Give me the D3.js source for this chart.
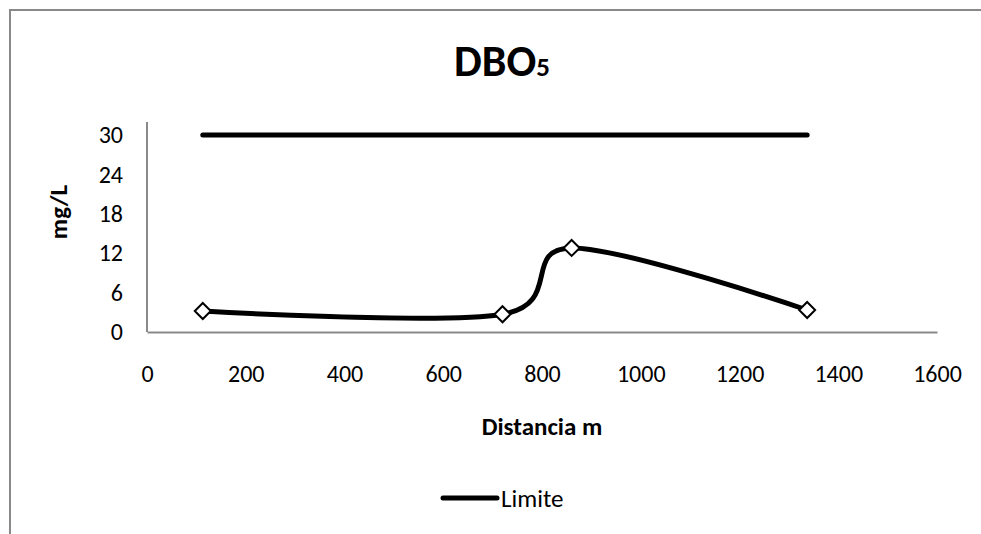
<!DOCTYPE html>
<html>
<head>
<meta charset="utf-8">
<script src="https://cdn.jsdelivr.net/npm/d3@7"></script>
<style>
  html, body { margin: 0; padding: 0; background: #fff; }
  svg { display: block; }
  text { font-family: Carlito, Lato, "Open Sans", sans-serif; fill: #000; }
</style>
</head>
<body>
<svg id="chart" width="981" height="534"></svg>
<script>
// ---- data ----
const distancia = [113, 720, 860, 1337];
const dbo5 = [3.2, 2.7, 12.8, 3.35];
const limite = [30, 30, 30, 30];
const xTicks = [0, 200, 400, 600, 800, 1000, 1200, 1400, 1600];
const yTicks = [0, 6, 12, 18, 24, 30];
const titleMain = "DBO";
const titleSub = "5";
const xTitle = "Distancia m";
const yTitle = "mg/L";
const legendName = "Limite";

const svg = d3.select("#chart");
const W = 981, H = 534;

// chart border (only top and left visible)
svg.append("path")
  .attr("d", `M10,${H} L10,10 L${W},10`)
  .attr("fill", "none").attr("stroke", "#898989").attr("stroke-width", 2);

const x = d3.scaleLinear().domain([0, 1600]).range([147, 937]);
const y = d3.scaleLinear().domain([0, 30]).range([332, 135]);

// axes
const xAxis = svg.append("g").attr("transform", `translate(0,${y(0)})`)
  .call(d3.axisBottom(x).tickValues(xTicks).tickSize(0).tickPadding(33).tickFormat(d3.format("d")));
xAxis.select(".domain").attr("stroke", "#898989").attr("stroke-width", 2);
xAxis.selectAll("text").style("font-size", "24px").attr("fill", "#000");

const yAxis = svg.append("g").attr("transform", `translate(${x(0)},0)`)
  .call(d3.axisLeft(y).tickValues(yTicks).tickSize(0).tickPadding(24).tickFormat(d3.format("d")));
yAxis.select(".domain").attr("stroke", "#898989").attr("stroke-width", 2)
  .attr("d", `M0,122V${y(0)}`);
yAxis.selectAll("text").style("font-size", "24px").attr("fill", "#000");

// title
const t = svg.append("text").attr("x", 502).attr("y", 76).attr("text-anchor", "middle")
  .style("font-size", "44px").style("font-weight", "bold");
t.append("tspan").text(titleMain);
t.append("tspan").text(titleSub).style("font-size", "27px");

// axis titles
svg.append("text").attr("x", 542).attr("y", 435).attr("text-anchor", "middle")
  .style("font-size", "25px").style("font-weight", "bold").text(xTitle);
svg.append("text").attr("transform", "translate(67,212) rotate(-90)").attr("text-anchor", "middle")
  .style("font-size", "25px").style("font-weight", "bold").text(yTitle);

const pts = distancia.map((d, i) => [x(d), y(dbo5[i])]);
const lim = distancia.map((d, i) => [x(d), y(limite[i])]);

// limit line
svg.append("path").attr("d", d3.line()(lim))
  .attr("fill", "none").attr("stroke", "#000").attr("stroke-width", 5).attr("stroke-linecap", "round");

// smoothed DBO5 line
svg.append("path").attr("d", d3.line().curve(d3.curveCardinal.tension(0))(pts))
  .attr("fill", "none").attr("stroke", "#000").attr("stroke-width", 5).attr("stroke-linecap", "round");

// diamond markers
svg.selectAll("path.mk").data(pts).enter().append("path").attr("class", "mk")
  .attr("transform", d => `translate(${d[0]},${d[1]})`)
  .attr("d", "M0,-8L8,0L0,8L-8,0Z")
  .attr("fill", "#fff").attr("stroke", "#000").attr("stroke-width", 2);

// legend
svg.append("line").attr("x1", 443).attr("x2", 497).attr("y1", 498).attr("y2", 498)
  .attr("stroke", "#000").attr("stroke-width", 5).attr("stroke-linecap", "round");
svg.append("text").attr("x", 501).attr("y", 507).style("font-size", "25px").text(legendName);
</script>
</body>
</html>
